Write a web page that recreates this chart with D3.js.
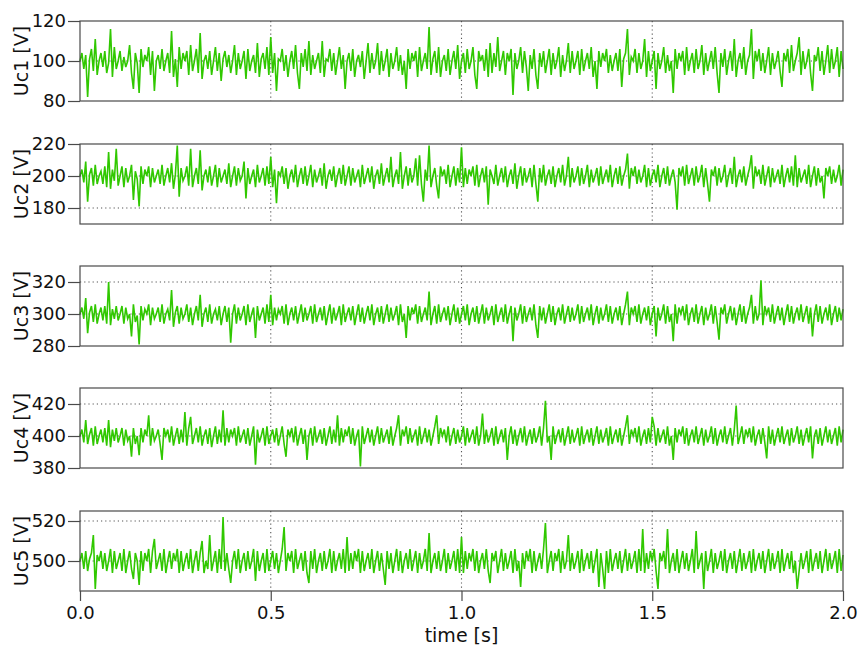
<!DOCTYPE html>
<html>
<head>
<meta charset="utf-8">
<script src="https://cdn.jsdelivr.net/npm/d3@7"></script>
<style>
  html, body { margin: 0; padding: 0; background: #fff; }
  svg { display: block; }
  text { font-family: "DejaVu Sans", Verdana, sans-serif; fill: #111; }
</style>
</head>
<body>
<svg id="chart" width="859" height="648"></svg>
<script>
// Capacitor voltages of the five cells, sampled uniformly over 0 … 2 s.
const timeSpan = [0, 2.0];
const timeTicks = [0, 0.5, 1.0, 1.5, 2.0];

const uc1 = [
  100,104,96,103,82,101,106,95,111,93,100,104,97,105,94,99,116,92,107,96,
  100,105,95,102,97,100,108,94,86,104,99,84,106,97,103,100,107,93,105,85,
  100,103,96,106,95,100,104,94,115,92,101,87,107,96,104,100,105,93,108,95,
  100,106,94,114,91,100,103,96,105,93,100,107,95,104,90,101,105,97,103,94,
  100,108,93,104,96,100,105,91,106,95,100,103,94,109,92,101,104,96,107,93,
  112,94,104,85,101,100,106,95,103,92,100,105,96,108,94,86,104,97,106,95,
  110,93,103,96,100,104,94,110,92,101,100,106,95,104,93,100,107,96,103,86,
  100,104,95,106,92,100,103,97,105,91,100,109,94,104,96,100,109,93,105,95,
  100,106,92,104,96,100,107,95,103,93,100,86,106,96,104,100,105,92,107,95,
  100,104,96,117,93,101,105,94,107,92,100,103,95,106,93,100,105,96,108,91,
  100,104,94,106,96,100,107,93,86,105,100,103,95,106,92,109,94,104,97,112,
  95,100,105,93,104,100,106,83,104,96,100,107,94,105,97,85,103,96,106,93,
  86,104,97,105,94,100,106,93,104,96,100,107,92,103,95,100,109,94,105,96,
  100,105,93,106,95,100,104,96,107,92,100,86,105,97,104,100,106,94,103,95,
  100,104,95,106,87,101,104,116,93,102,100,106,94,104,96,100,111,92,105,95,
  100,105,86,104,96,100,107,94,103,95,100,84,106,96,104,100,105,93,107,95,
  100,104,94,106,96,100,108,93,104,95,100,105,96,107,94,84,104,97,106,93,
  100,105,95,111,92,100,104,96,107,93,100,103,116,91,105,100,106,95,104,94,
  100,107,93,104,96,100,105,95,87,104,100,106,94,108,95,100,104,112,93,105,
  96,100,106,94,85,103,100,107,95,105,93,100,108,94,106,96,100,107,92,105,
  96
];

const uc2 = [
  200,204,196,209,184,201,205,194,207,195,200,203,195,206,193,215,192,204,197,217,
  194,200,206,193,205,196,200,207,185,203,198,181,206,195,204,200,206,193,205,196,
  200,204,195,207,194,200,205,196,208,192,201,219,187,205,197,200,206,194,217,193,
  200,205,195,216,191,200,204,196,206,194,200,207,193,205,196,200,204,195,208,193,
  200,206,194,205,197,200,209,186,205,195,200,204,193,207,196,200,205,194,206,195,
  212,193,204,183,203,200,206,195,205,192,200,204,196,207,193,200,205,195,206,194,
  200,207,193,204,196,200,205,194,208,192,200,204,197,206,193,200,205,195,207,194,
  200,206,194,205,196,200,204,193,207,195,200,205,196,206,192,200,204,195,208,194,
  200,205,196,212,193,200,204,195,215,192,200,206,194,205,196,200,211,194,213,195,
  184,204,197,219,193,200,205,194,186,206,200,204,195,207,193,200,206,194,205,196,
  218,193,205,195,204,200,206,194,207,193,200,205,196,206,182,204,200,195,207,194,
  200,205,196,206,193,200,204,195,208,192,200,206,194,205,196,200,205,193,207,195,
  184,205,196,207,194,200,204,195,206,193,200,205,196,207,194,200,212,193,205,196,
  200,206,194,205,195,200,207,193,204,196,200,205,194,206,195,200,204,196,207,193,
  200,205,195,206,194,200,204,214,192,205,200,206,195,204,196,200,207,193,205,194,
  200,204,196,207,193,200,205,195,206,194,200,204,196,179,205,200,206,194,207,195,
  200,205,194,206,196,200,207,193,205,195,184,204,200,206,194,205,196,200,207,193,
  200,205,195,212,193,200,204,196,206,194,200,205,213,192,206,200,204,195,207,194,
  200,206,193,205,196,200,204,195,207,193,200,205,196,206,194,213,193,205,196,200,
  204,195,207,193,200,206,194,205,196,200,186,205,200,206,195,204,196,200,207,194,
  204
];

const uc3 = [
  300,304,297,310,288,301,305,295,306,294,300,304,296,305,294,320,293,303,297,305,
  296,300,305,294,304,297,300,286,306,295,299,281,305,296,303,300,306,293,304,297,
  300,304,295,306,294,300,303,296,315,292,301,305,294,304,297,300,306,295,304,293,
  300,305,296,312,292,300,304,295,306,294,300,303,296,305,293,300,305,295,304,282,
  300,306,294,304,296,300,305,293,306,295,300,304,285,305,296,300,304,294,306,295,
  312,293,304,296,303,300,305,294,306,293,300,304,296,305,294,300,306,295,304,296,
  300,305,294,306,295,300,304,296,305,293,300,306,294,304,296,300,305,293,306,295,
  300,304,296,305,293,300,306,295,304,294,300,305,296,306,293,300,304,295,305,294,
  300,306,295,304,296,300,305,293,306,295,300,285,305,296,304,300,306,294,305,295,
  300,304,296,314,293,300,305,294,306,295,300,304,296,305,293,300,306,295,304,294,
  300,305,296,306,293,300,304,295,305,294,300,306,294,304,296,300,305,293,306,295,
  300,304,295,306,294,300,305,283,304,296,300,306,294,305,295,300,304,296,306,293,
  285,305,296,304,294,300,306,295,305,293,300,304,296,306,294,300,305,295,304,296,
  300,306,294,305,295,300,304,296,306,293,300,305,294,304,296,300,306,295,305,294,
  300,304,296,305,293,300,306,314,293,304,300,305,295,306,294,300,304,296,305,293,
  300,305,286,304,296,300,306,294,305,295,300,283,306,294,304,300,305,296,306,293,
  300,304,295,306,294,300,305,293,304,296,300,306,294,305,295,284,304,300,306,294,
  300,305,296,304,293,300,306,295,305,294,300,304,312,294,305,296,300,321,293,305,
  300,304,295,306,294,300,305,296,304,293,300,306,295,305,294,300,304,296,306,295,
  300,305,294,304,286,300,306,295,305,294,300,304,296,306,293,300,305,295,304,296,
  303
];

const uc4 = [
  400,404,396,410,395,401,405,394,406,395,400,404,396,405,394,410,393,404,397,405,
  396,400,405,394,404,397,400,387,405,395,400,388,405,396,404,400,413,394,405,397,
  400,404,395,385,405,400,404,396,406,394,400,405,395,404,396,415,394,405,412,395,
  400,405,396,406,394,400,404,395,405,393,400,406,395,404,396,416,394,405,396,404,
  400,405,394,406,396,400,404,395,405,394,400,406,382,404,396,400,405,394,406,395,
  400,404,396,405,394,400,406,395,387,404,400,405,396,406,394,400,405,395,404,385,
  400,405,394,406,396,400,404,395,405,394,400,406,395,404,396,413,394,405,396,404,
  400,406,395,405,394,400,404,381,406,395,400,405,396,404,394,400,406,395,405,396,
  400,404,395,406,394,400,405,413,394,404,400,406,395,405,396,400,404,394,406,395,
  400,405,396,404,394,400,406,413,395,405,400,404,396,406,394,400,405,395,404,396,
  400,406,394,405,396,400,404,395,406,394,400,414,395,404,396,400,405,394,406,395,
  400,404,396,405,385,400,406,395,404,394,400,405,396,406,394,400,404,395,405,396,
  400,406,394,405,422,396,400,385,406,395,400,404,396,405,394,400,406,395,404,396,
  400,405,394,406,395,400,404,396,405,394,400,406,395,404,396,400,405,394,406,395,
  400,404,396,405,394,400,406,413,395,404,400,405,396,406,394,400,404,395,405,396,
  412,406,394,405,396,400,404,395,406,394,400,385,405,396,404,400,406,395,405,394,
  400,404,396,406,395,400,405,394,404,396,400,406,395,405,394,400,404,396,406,395,
  400,405,394,404,419,395,400,406,395,404,400,405,396,406,394,400,404,395,405,396,
  386,406,395,404,394,400,405,396,406,395,400,404,394,405,396,400,406,395,404,394,
  400,405,396,406,386,400,404,395,405,394,400,406,396,404,395,400,405,394,406,396,
  404
];

const uc5 = [
  500,504,496,505,495,501,504,513,486,503,500,505,496,504,495,500,506,494,505,496,
  500,504,495,506,494,500,505,496,491,504,500,488,505,495,504,500,506,494,505,511,
  496,500,504,495,506,494,500,505,496,504,500,506,494,505,495,500,504,496,506,494,
  500,505,495,504,510,494,500,496,513,495,500,505,494,506,496,522,495,504,496,489,
  500,505,496,506,494,500,504,495,505,496,500,506,490,505,495,500,504,494,506,495,
  500,505,496,504,494,500,506,517,495,504,500,505,494,506,496,500,504,495,505,494,
  489,505,496,506,494,500,504,495,505,496,500,506,494,505,495,500,504,496,506,494,
  512,495,504,496,505,500,506,494,505,495,500,504,496,506,494,500,505,495,504,496,
  488,505,496,504,494,500,506,495,505,494,500,504,496,506,495,500,505,494,504,496,
  500,506,495,514,494,500,504,496,505,495,500,506,494,504,496,500,505,495,506,494,
  512,494,505,496,504,500,506,495,505,494,500,504,496,506,495,489,504,500,505,494,
  500,506,495,504,496,500,505,494,506,495,500,487,504,496,505,500,506,494,505,495,
  500,504,496,506,519,494,500,505,495,504,500,506,494,505,496,500,513,495,504,496,
  500,505,494,506,495,500,504,496,505,494,500,506,487,504,496,486,505,494,506,495,
  500,504,496,505,494,500,506,495,504,496,500,505,494,506,495,516,494,504,496,505,
  500,506,495,486,504,500,505,496,516,494,500,504,495,506,494,500,505,496,504,495,
  500,506,494,515,496,500,504,486,505,495,500,506,494,504,496,500,505,495,506,494,
  500,504,496,505,494,500,506,495,504,496,500,505,494,506,495,500,504,496,505,494,
  500,506,495,504,496,500,505,494,506,495,500,504,496,505,494,500,486,495,504,496,
  500,505,494,506,495,500,504,496,505,494,500,506,495,504,496,500,505,494,506,495,
  503
];

const seriesValues = [uc1, uc2, uc3, uc4, uc5];
const seriesLabels = ["Uc1 [V]", "Uc2 [V]", "Uc3 [V]", "Uc4 [V]", "Uc5 [V]"];
const yDomains = [[80, 120], [170, 220], [280, 330], [380, 430], [485, 525]];
const yTickValues = [[80, 100, 120], [180, 200, 220], [280, 300, 320], [380, 400, 420], [500, 520]];
const xLabel = "time [s]";

// Layout
const plotLeft = 80, plotRight = 843;
const panelTops = [21, 144, 266, 388, 511];
const panelHeight = 80;
const lineColor = "#30c800";
const frameColor = "#4a4a4a";
const gridColor = "#555";

const svg = d3.select("#chart");
const x = d3.scaleLinear().domain(timeSpan).range([plotLeft, plotRight]);

seriesValues.forEach((values, k) => {
  const top = panelTops[k];
  const y = d3.scaleLinear().domain(yDomains[k]).range([top + panelHeight, top]);
  const g = svg.append("g");
  const n = values.length;
  const t = values.map((_, i) => timeSpan[0] + (timeSpan[1] - timeSpan[0]) * i / (n - 1));

  // dotted grid: horizontal at each labelled value, vertical at the inner time ticks
  g.append("g")
    .selectAll("line.h")
    .data(yTickValues[k].filter(v => v > yDomains[k][0] && v < yDomains[k][1]))
    .join("line")
    .attr("x1", plotLeft).attr("x2", plotRight)
    .attr("y1", d => y(d)).attr("y2", d => y(d))
    .attr("stroke", gridColor).attr("stroke-width", 1.1)
    .attr("stroke-dasharray", "1.2,3");
  g.append("g")
    .selectAll("line.v")
    .data(timeTicks.filter(v => v > timeSpan[0] && v < timeSpan[1]))
    .join("line")
    .attr("x1", d => x(d)).attr("x2", d => x(d))
    .attr("y1", top).attr("y2", top + panelHeight)
    .attr("stroke", gridColor).attr("stroke-width", 1.1)
    .attr("stroke-dasharray", "1.2,3");

  // signal
  const line = d3.line().x((d, i) => x(t[i])).y(d => y(d));
  g.append("path")
    .datum(values)
    .attr("d", line)
    .attr("fill", "none")
    .attr("stroke", lineColor)
    .attr("stroke-width", 1.6)
    .attr("stroke-linejoin", "miter");

  // frame
  g.append("rect")
    .attr("x", plotLeft).attr("y", top)
    .attr("width", plotRight - plotLeft).attr("height", panelHeight)
    .attr("fill", "none").attr("stroke", frameColor).attr("stroke-width", 1.2);

  // left axis
  const ay = g.append("g")
    .attr("transform", `translate(${plotLeft},0)`)
    .call(d3.axisLeft(y).tickValues(yTickValues[k]).tickSize(12).tickPadding(2).tickFormat(d3.format("d")));
  ay.select(".domain").remove();
  ay.selectAll(".tick line").attr("stroke", frameColor).attr("stroke-width", 1.2);
  ay.selectAll(".tick text")
    .style("font-family", '"DejaVu Sans", Verdana, sans-serif')
    .style("font-size", "18px").attr("fill", "#111");

  // axis title
  svg.append("text")
    .attr("transform", `translate(28,${top + panelHeight / 2}) rotate(-90)`)
    .attr("text-anchor", "middle")
    .style("font-size", "19px")
    .text(seriesLabels[k]);

  // time axis under the last panel
  if (k === seriesValues.length - 1) {
    const ax = g.append("g")
      .attr("transform", `translate(0,${top + panelHeight})`)
      .call(d3.axisBottom(x).tickValues(timeTicks).tickSize(10).tickPadding(5).tickFormat(d3.format(".1f")));
    ax.select(".domain").remove();
    ax.selectAll(".tick line").attr("stroke", frameColor).attr("stroke-width", 1.2);
    ax.selectAll(".tick text")
      .style("font-family", '"DejaVu Sans", Verdana, sans-serif')
      .style("font-size", "18px").attr("fill", "#111");
    svg.append("text")
      .attr("x", (plotLeft + plotRight) / 2)
      .attr("y", 642)
      .attr("text-anchor", "middle")
      .style("font-size", "19px")
      .text(xLabel);
  }
});
</script>
</body>
</html>
